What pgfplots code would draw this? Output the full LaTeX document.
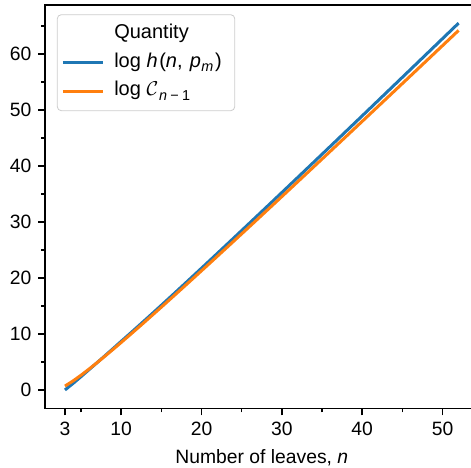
\documentclass[border=0pt]{standalone}
\usepackage{fontspec}
\setmainfont{Liberation Sans}
\usepackage{pgfplots}
\usepackage{pgfplotstable}
\pgfplotsset{compat=1.18}
\usetikzlibrary{calc}

\definecolor{tabblue}{HTML}{1F77B4}
\definecolor{taborange}{HTML}{FF7F0E}

% log h(n, p_m)
\pgfplotstableread{
n y
3 0.00
4 1.16
5 2.38
6 3.63
7 4.88
8 6.14
9 7.41
10 8.69
11 9.955
12 11.234
13 12.524
14 13.823
15 15.130
16 16.444
17 17.764
18 19.090
19 20.420
20 21.755
21 23.093
22 24.435
23 25.780
24 27.128
25 28.479
26 29.832
27 31.187
28 32.545
29 33.904
30 35.265
31 36.628
32 37.992
33 39.359
34 40.726
35 42.094
36 43.464
37 44.835
38 46.208
39 47.581
40 48.955
41 50.330
42 51.706
43 53.084
44 54.462
45 55.840
46 57.219
47 58.599
48 59.981
49 61.362
50 62.744
51 64.126
52 65.509
}\hdata

% log C_{n-1} (Catalan numbers)
\pgfplotstableread{
n y
3 0.6931
4 1.6094
5 2.6391
6 3.7377
7 4.8828
8 6.0615
9 7.2654
10 8.4892
11 9.7288
12 10.9816
13 12.2454
14 13.5183
15 14.7993
16 16.0871
17 17.3810
18 18.6803
19 19.9843
20 21.2927
21 22.6049
22 23.9206
23 25.2394
24 26.5612
25 27.8856
26 29.2125
27 30.5416
28 31.8728
29 33.2060
30 34.5410
31 35.8777
32 37.2160
33 38.5558
34 39.8969
35 41.2394
36 42.5832
37 43.9281
38 45.2741
39 46.6212
40 47.9693
41 49.3183
42 50.6682
43 52.0190
44 53.3706
45 54.7230
46 56.0762
47 57.4300
48 58.7846
49 60.1398
50 61.4956
51 62.8521
52 64.2091
}\cdata

\newcommand{\sub}[1]{\raisebox{-0.22em}{\fontsize{7.2}{7.5}\selectfont #1}}

\begin{document}
\fontsize{9.65}{11.6}\selectfont
\begin{tikzpicture}
\begin{axis}[
    name=ax,
    scale only axis,
    width=216.5pt,
    height=201.75pt,
    xmin=0.55, xmax=54.45,
    ymin=-3.275, ymax=68.78,
    xtick={3,10,20,30,40,50},
    minor xtick={5,15,25,35,45},
    ytick={0,10,20,30,40,50,60},
    minor ytick={5,15,25,35,45,55,65},
    tick align=outside,
    xtick pos=bottom,
    ytick pos=left,
    major tick length=3.5pt,
    minor tick length=2pt,
    every tick/.style={black, line width=0.8pt},
    every minor tick/.style={black, line width=0.6pt},
    axis line style={line width=0.8pt},
    /pgf/number format/assume math mode=true,
    ticklabel style={font=\fontsize{9.65}{11.6}\selectfont},
    xlabel={Number of leaves, \textit{n}},
    label style={font=\fontsize{9.65}{11.6}\selectfont},
    legend image code/.code={\draw[#1] (0pt,0pt) -- (20pt,0pt);},
    legend style={
        at={(0,1)}, anchor=north west, xshift=5.8pt, yshift=-4.75pt,
        draw=black!20, rounded corners=2pt, fill=white,
        inner xsep=2pt, inner ysep=3pt,
        font=\fontsize{10}{12}\selectfont,
        cells={anchor=west},
        nodes={inner sep=0pt, text height=9pt, text depth=4.5pt},
        row sep=0.75pt, column sep=5pt,
    },
]
\addlegendimage{empty legend}
\addlegendentry{Quantity\kern2pt}

\addplot[tabblue, line width=1.5pt] table[x=n, y=y] {\hdata};
\addlegendentry{log \textit{h}\kern0.8pt(\textit{n},\kern0.8pt\ \textit{p}\kern0.3pt\sub{\textit{m}}\kern0.8pt)\kern4.5pt}

\addplot[taborange, line width=1.5pt] table[x=n, y=y] {\cdata};
\addlegendentry{log $\mathcal{C}$\kern0.5pt\sub{\textit{n}\kern1.6pt−\kern1.6pt1}}
\end{axis}
\pgfresetboundingbox
\path[use as bounding box] ($(ax.south west)+(-22.65pt,-29.35pt)$) rectangle ($(ax.south west)+(212.85pt,204.15pt)$);
\end{tikzpicture}
\end{document}
